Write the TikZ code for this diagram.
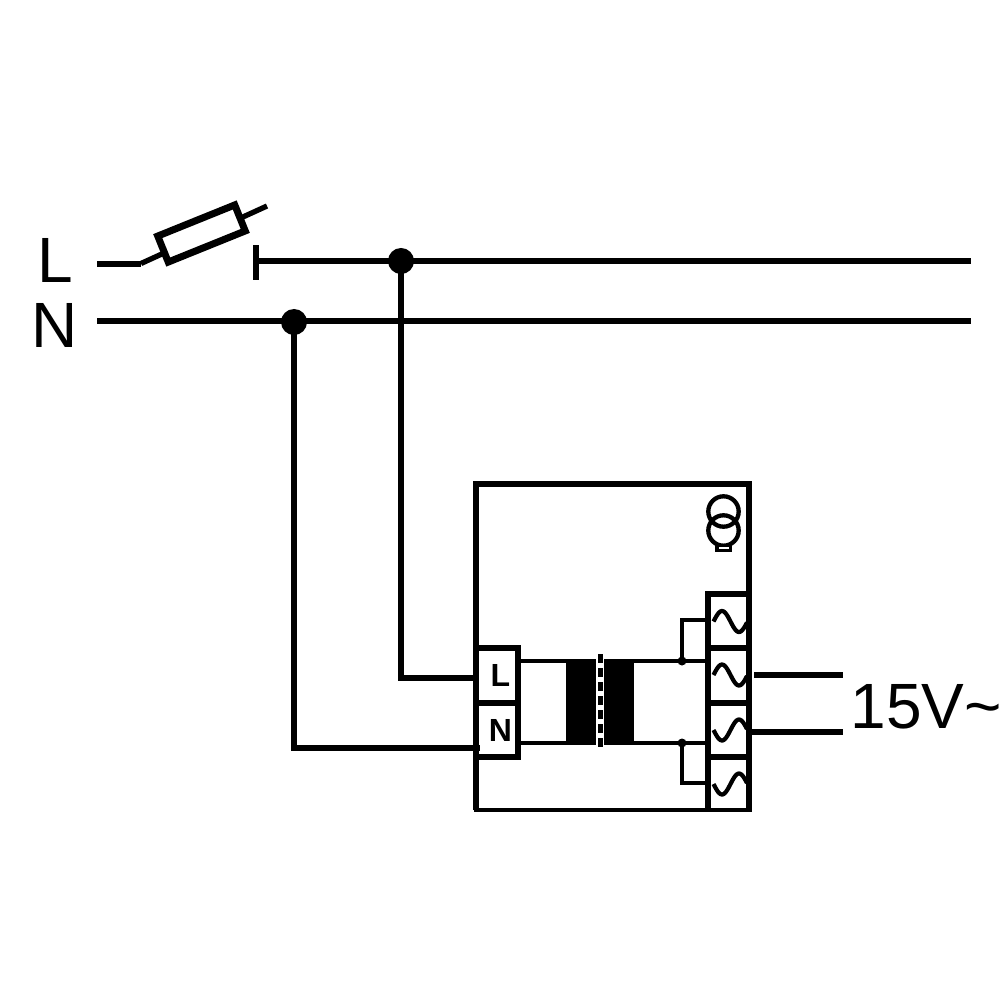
\documentclass[tikz,border=0pt]{standalone}
\usepackage{fontspec}
\setmainfont{Liberation Sans}

\begin{document}
\begin{tikzpicture}
    [
    x=0.01cm,y=-0.01cm,
    mains/.style = {line width=0.06cm,black},
    thick wire/.style = {line width=0.053cm,black},
    thin wire/.style = {line width=0.034cm,black},
    dot/.style = {minimum width=0.26cm,inner sep=0pt,outer sep=0pt,line width=0pt,fill,circle,black},
    smalldot/.style = {minimum width=0.09cm,inner sep=0pt,outer sep=0pt,line width=0pt,fill,circle,black},
    terminal/.style = {draw,line width=0.052cm,minimum width=0.42cm,inner sep=0pt,outer sep=0pt,font=\fontsize{9.1pt}{9.1pt}\bfseries},
    core/.style = {fill,black,minimum width=0.30cm,minimum height=0.86cm,inner sep=0pt,outer sep=0pt},
    bigtext/.style = {inner sep=0pt,anchor=base west,font=\fontsize{18.2pt}{18.2pt}\selectfont}
    ]
\useasboundingbox (0,0) rectangle (1000,1000);

\node[bigtext] (textL) at (37,282) {L};
\node[bigtext] (textN) at (31,347) {N};
\node[bigtext] (textV) at (850,728) {15V\char`~};

% supply lines
\node[dot] (dotL) at (401,261) {};
\node[dot] (dotN) at (294,322) {};
\coordinate (startL) at (97,263.5);
\coordinate (kneeL) at (141,263.5);
\coordinate (tipL) at (267,206);
\coordinate (contact) at (256,261);
\coordinate (contactTop) at (256,245);
\coordinate (contactBot) at (256,280);
\coordinate (endL) at (971,261);
\coordinate (startN) at (97,320.5);
\coordinate (endN) at (971,320.5);

\draw[mains] (startL) -- (kneeL);
\draw[thick wire] (kneeL) -- (tipL);
\node[draw,fill=white,line width=0.07cm,minimum width=0.83cm,minimum height=0.28cm,inner sep=0pt,outer sep=0pt,rotate=22] (fuse) at (201.5,233.5) {};
\draw[line width=0.06cm] (contactTop) -- (contactBot);
\draw[mains] (contact) -- (dotL.center) -- (endL);
\draw[mains] (startN) -- (endN);

% device
\draw[thick wire] (476,810) -- (476,484) -- (749,484) -- (749,810);
\draw[thin wire] (473.5,810) -- (751.5,810);
\node[terminal,minimum height=0.55cm] (termL) at (497,675.5) {\hspace{0.07cm}L};
\node[terminal,minimum height=0.54cm] (termN) at (497,730) {\hspace{0.07cm}N};
\coordinate (inL) at (476,678);
\coordinate (inN) at (480,748);
\draw[thick wire] (dotL.center) |- (inL);
\draw[thick wire] (dotN.center) |- (inN);

% transformer
\node[core] (coreA) at (581,702) {};
\node[core] (coreB) at (619,702) {};
\node[smalldot] (dotA) at (682,661) {};
\node[smalldot] (dotB) at (682,743) {};
\coordinate (outA) at (708,661);
\coordinate (outB) at (708,743);
\coordinate (loopA) at (708,620);
\coordinate (loopB) at (708,783);
\draw[thin wire] (518,661) -- (566,661);
\draw[thin wire] (518,743) -- (566,743);
\draw[thin wire] (634,661) -- (dotA.center) -- (outA);
\draw[thin wire] (634,743) -- (dotB.center) -- (outB);
\draw[thin wire] (dotA.center) |- (loopA);
\draw[thin wire] (dotB.center) |- (loopB);
\draw[line width=0.047cm,dash pattern=on 0.09cm off 0.05cm] (600.3,654) -- (600.3,748);

% output terminals
\draw[thick wire] (708,810) -- (708,594) -- (749,594);
\foreach \yline in {648,703,757} {
    \draw[thick wire] (708,\yline) -- (749,\yline);
}
\foreach \ymid/\sgn in {621.5/1,675/1,730/-1,784/-1} {
    \draw[line width=0.042cm] plot[domain=713.5:747,samples=30,smooth] (\x,{\ymid-10.5*\sgn*sin((\x-713.5)*360/34)});
}
\coordinate (outC) at (754,675);
\coordinate (outD) at (751,732);
\coordinate (wireC) at (843,675);
\coordinate (wireD) at (843,732);
\draw[mains] (outC) -- (wireC);
\draw[mains] (outD) -- (wireD);

% symbol
\draw[line width=0.043cm] (723.5,511.5) circle (15.2);
\draw[line width=0.043cm] (723.5,530.5) circle (15.2);
\fill (715,545) rectangle (732,552);
\fill[white] (718.5,547) rectangle (728.5,549);
\end{tikzpicture}
\end{document}
